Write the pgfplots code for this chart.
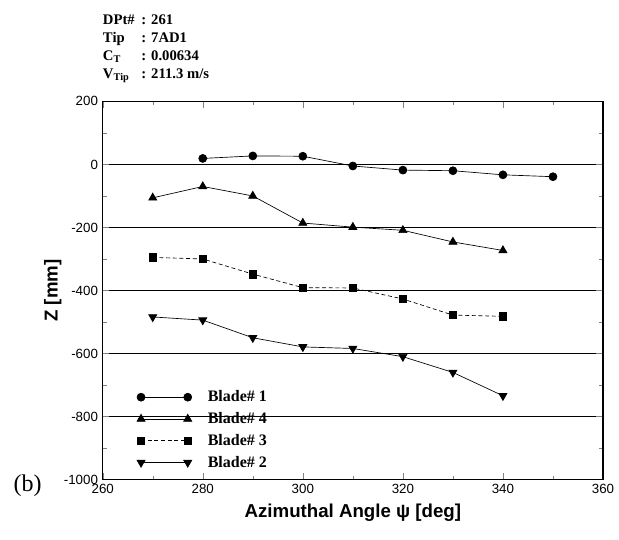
\documentclass[border=0pt]{standalone}
\usepackage{pgfplots}
\pgfplotsset{compat=1.18}
\usepackage{fontspec}
\setmainfont{Liberation Serif}
\setsansfont{Liberation Sans}
\begin{document}
\begin{tikzpicture}[x=0.75pt,y=0.75pt]
\begin{axis}[
  scale only axis,
  clip=false,
  width=375pt, height=283.5pt,
  xmin=260, xmax=360, ymin=-1000, ymax=200,
  xtick={260,280,...,360}, ytick={-1000,-800,...,200},
  minor x tick num=1, minor y tick num=1,
  tick align=inside,
  major tick length=5pt, minor tick length=3pt,
  ymajorgrids, grid style={black, line width=0.6pt},
  axis line style={line width=0.8pt},
  /pgf/number format/assume math mode=true,
  /pgf/number format/1000 sep={},
  ticklabel style={font=\sffamily\fontsize{10}{12}\selectfont},
  xlabel={\sffamily\bfseries\fontsize{14}{16}\selectfont Azimuthal Angle ψ [deg]},
  ylabel={\sffamily\bfseries\fontsize{14}{16}\selectfont Z [mm]},
  xlabel style={yshift=-1pt},
  ylabel style={yshift=-5pt},
  legend style={draw=none, fill=none, at={(rel axis cs:0.06,0.25)}, anchor=north west,
    font=\bfseries\fontsize{12}{14}\selectfont, row sep=2.5pt, cells={anchor=west}},
  legend image code/.code={\draw[#1] plot coordinates {(0pt,0pt) (35pt,0pt)}; \path[draw=none] (0pt,0pt) -- (48pt,0pt);},
  every axis plot/.append style={black, line width=0.5pt},
]
\addplot[mark=*, mark size=3pt, mark options={solid}] coordinates {
(280,19) (290,27) (300,26) (310,-5) (320,-18) (330,-20) (340,-33) (350,-39)};
\addlegendentry{Blade\# 1}
\addplot[mark=triangle*, mark size=3.5pt, mark options={solid}] coordinates {
(270,-106) (280,-70) (290,-100) (300,-186) (310,-199) (320,-209) (330,-246) (340,-273)};
\addlegendentry{Blade\# 4}
\addplot[densely dashed, mark=square*, mark size=2.8pt, mark options={solid}] coordinates {
(270,-295) (280,-300) (290,-348) (300,-391) (310,-392) (320,-427) (330,-478) (340,-482)};
\addlegendentry{Blade\# 3}
\addplot[mark=triangle*, mark size=3.5pt, mark options={solid, rotate=180}] coordinates {
(270,-484) (280,-494) (290,-550) (300,-579) (310,-584) (320,-610) (330,-660) (340,-734)};
\addlegendentry{Blade\# 2}
\node[anchor=south west, inner sep=0pt, font=\bfseries\fontsize{11}{13.5}\selectfont, align=left]
  at (rel axis cs:0,1) [yshift=13pt] {%
  \begin{tabular}{@{}l@{\hspace{5pt}}l@{}}
  DPt\# & : 261\\
  Tip & : 7AD1\\
  C\textsubscript{T} & : 0.00634\\
  V\textsubscript{Tip} & : 211.3 m/s
  \end{tabular}};
\node[font=\fontsize{18}{20}\selectfont] at (rel axis cs:-0.15,-0.016) {(b)};
\path (rel axis cs:0,0) ++(-77pt,-45pt) (rel axis cs:1,1) ++(12pt,76pt);
\end{axis}
\end{tikzpicture}
\end{document}
